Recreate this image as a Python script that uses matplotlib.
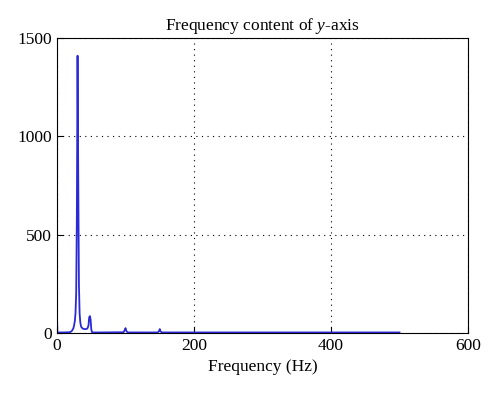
import matplotlib
matplotlib.use("Agg")
import matplotlib.pyplot as plt

plt.rcParams['font.family'] = ['Liberation Serif', 'DejaVu Serif']
plt.rcParams['mathtext.fontset'] = 'custom'
plt.rcParams['mathtext.it'] = 'Liberation Serif:italic'
plt.rcParams['mathtext.rm'] = 'Liberation Serif'

# spectrum
freq = [0, 0.5, 2, 10, 18, 20, 22, 24, 25, 26, 27, 28, 29, 30, 31, 32, 33, 34, 35, 36, 38, 40,
        42, 44, 45, 46, 47, 48, 49, 50, 51, 53, 60, 97, 99, 100, 101, 103,
        147, 149, 150, 151, 153, 200, 300, 400, 500]
amp = [80, 5, 3, 3, 4, 6, 12, 25, 40, 60, 100, 200, 600, 1410, 800, 250, 100, 55, 35, 28, 22, 20,
       20, 22, 28, 40, 80, 86, 70, 20, 5, 3, 3, 4, 15, 25, 12, 3,
       3, 10, 20, 9, 3, 3, 3, 3, 3]

xticks = [0, 200, 400, 600]
yticks = [0, 500, 1000, 1500]

fig = plt.figure(figsize=(5, 3.96), dpi=100)
ax = fig.add_axes([0.114, 0.159, 0.822, 0.745])
ax.plot(freq, amp, color='#2a2ad6', linewidth=1.3)

ax.set_xlim(0, 600)
ax.set_ylim(0, 1500)
ax.set_xticks(xticks)
ax.set_yticks(yticks)
ax.grid(True, linestyle=(0, (1, 4)), color='black', linewidth=0.8)
ax.tick_params(direction='in', labelsize=12.5, length=4)
for s in ax.spines.values():
    s.set_linewidth(0.8)

ax.set_title('Frequency content of $y$-axis', fontsize=12.5)
ax.set_xlabel('Frequency (Hz)', fontsize=12.5)

fig.savefig('out.png', dpi=100)
